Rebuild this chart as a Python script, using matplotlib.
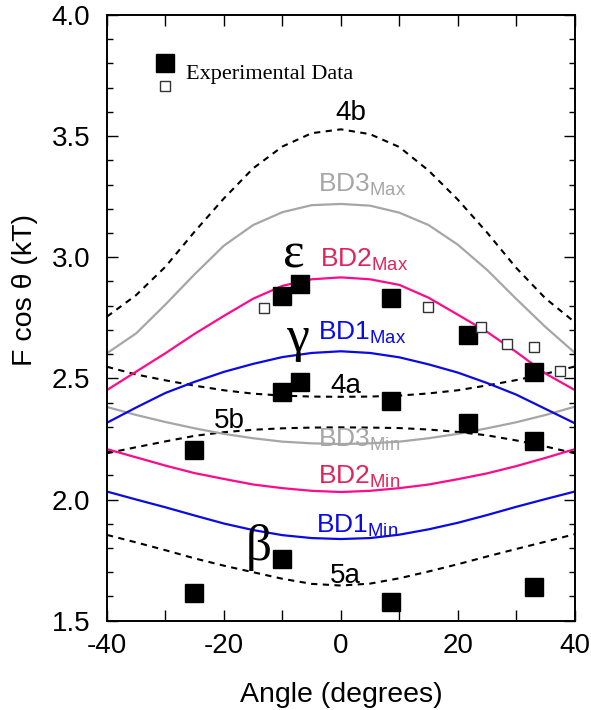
import numpy as np
import matplotlib
matplotlib.use('Agg')
import matplotlib.pyplot as plt
from matplotlib.ticker import MultipleLocator

plt.rcParams['font.family'] = ['Liberation Sans', 'DejaVu Sans']
plt.rcParams['mathtext.fontset'] = 'custom'
plt.rcParams['mathtext.rm'] = 'Liberation Sans'
plt.rcParams['mathtext.it'] = 'Liberation Sans:italic'
plt.rcParams['axes.unicode_minus'] = False

angle = [-40, -35, -30, -25, -20, -15, -10, -5, 0, 5, 10, 15, 20, 25, 30, 35, 40]

c4b = [2.755, 2.844, 2.961, 3.106, 3.243, 3.367, 3.457, 3.512, 3.528,
       3.508, 3.455, 3.358, 3.238, 3.102, 2.956, 2.830, 2.732]
bd3_max = [2.604, 2.686, 2.805, 2.930, 3.048, 3.133, 3.186, 3.215, 3.220,
           3.213, 3.184, 3.133, 3.052, 2.948, 2.828, 2.712, 2.606]
bd2_max = [2.452, 2.528, 2.604, 2.684, 2.758, 2.829, 2.882, 2.909, 2.917,
           2.909, 2.886, 2.833, 2.763, 2.692, 2.609, 2.520, 2.452]
bd1_max = [2.317, 2.380, 2.440, 2.486, 2.527, 2.560, 2.588, 2.605, 2.612,
           2.605, 2.587, 2.558, 2.524, 2.481, 2.433, 2.374, 2.315]
c4a = [2.548, 2.516, 2.492, 2.470, 2.451, 2.437, 2.429, 2.425, 2.424,
       2.425, 2.429, 2.438, 2.451, 2.471, 2.493, 2.519, 2.549]
bd3_min = [2.382, 2.349, 2.320, 2.294, 2.271, 2.253, 2.239, 2.232, 2.229,
           2.232, 2.239, 2.253, 2.271, 2.294, 2.319, 2.349, 2.383]
c5b = [2.191, 2.216, 2.240, 2.263, 2.278, 2.288, 2.294, 2.297, 2.298,
       2.297, 2.295, 2.289, 2.279, 2.265, 2.244, 2.219, 2.191]
bd2_min = [2.208, 2.174, 2.140, 2.109, 2.085, 2.062, 2.047, 2.036, 2.031,
           2.036, 2.047, 2.062, 2.084, 2.108, 2.138, 2.172, 2.208]
bd1_min = [2.033, 2.000, 1.968, 1.934, 1.901, 1.874, 1.853, 1.841, 1.837,
           1.841, 1.855, 1.877, 1.904, 1.936, 1.970, 2.002, 2.033]
c5a = [1.854, 1.823, 1.791, 1.757, 1.727, 1.700, 1.673, 1.652, 1.645,
       1.653, 1.675, 1.703, 1.733, 1.765, 1.796, 1.826, 1.857]

# experimental data, filled and open squares
exp_x = [-25.2, -25.2, -10.0, -10.0, -7.0, -10.0, -7.0, 8.6, 8.6, 8.6,
         21.8, 21.8, 33.1, 33.1, 33.1]
exp_y = [2.205, 1.616, 1.754, 2.443, 2.487, 2.842, 2.889, 2.831, 2.408, 1.579,
         2.679, 2.315, 2.528, 2.243, 1.641]
open_x = [-13.1, 14.9, 24.0, 28.4, 33.0, 37.4]
open_y = [2.790, 2.794, 2.714, 2.641, 2.631, 2.531]

pink = '#ff0a8c'
blue = '#0a0ae6'
gray = '#a6a6a6'

fig = plt.figure(figsize=(5.91, 7.10), dpi=100)
ax = fig.add_axes([0.181, 0.1258, 0.7915, 0.8531])

dash = dict(color='black', lw=1.5, dashes=(3, 2.6))
ax.plot(angle, c4b, **dash)
ax.plot(angle, c4a, **dash)
ax.plot(angle, c5b, **dash)
ax.plot(angle, c5a, **dash)
ax.plot(angle, bd3_max, color=gray, lw=1.6)
ax.plot(angle, bd3_min, color=gray, lw=1.6)
ax.plot(angle, bd2_max, color=pink, lw=1.6)
ax.plot(angle, bd2_min, color=pink, lw=1.6)
ax.plot(angle, bd1_max, color=blue, lw=1.6)
ax.plot(angle, bd1_min, color=blue, lw=1.6)

ax.plot(exp_x, exp_y, 's', color='black', ms=12.5, zorder=5)
ax.plot(open_x, open_y, 's', mfc='white', mec='#333333', mew=1.0, ms=7.8, zorder=5)

# legend-like key in the upper left
ax.plot([0.124], [0.921], 's', color='black', ms=12.5, transform=ax.transAxes)
ax.plot([0.124], [0.882], 's', mfc='white', mec='#333333', mew=1.0, ms=7.8,
        transform=ax.transAxes)
ax.text(0.170, 0.901, 'Experimental Data', transform=ax.transAxes,
        family='Liberation Serif', fontsize=16, va='center', ha='left')

# curve labels
lab = dict(fontsize=19, ha='center', va='baseline')
ax.text(1.7, 3.565, '4b', color='black', fontsize=20, ha='center', va='baseline')
ax.text(3.6, 3.27, r'BD3$_{\rm Max}$', color=gray, **lab)
ax.text(4.0, 2.961, r'BD2$_{\rm Max}$', color='#e0245a', **lab)
ax.text(3.6, 2.659, r'BD1$_{\rm Max}$', color=blue, **lab)
ax.text(0.9, 2.441, '4a', color='black', fontsize=20, ha='center', va='baseline')
ax.text(-19.0, 2.297, '5b', color='black', fontsize=20, ha='center', va='baseline')
ax.text(3.1, 2.216, r'BD3$_{\rm Min}$', color=gray, **lab)
ax.text(3.1, 2.067, r'BD2$_{\rm Min}$', color='#e0245a', **lab)
ax.text(2.8, 1.861, r'BD1$_{\rm Min}$', color=blue, **lab)
ax.text(0.7, 1.655, '5a', color='black', fontsize=20, ha='center', va='baseline')

greek = dict(family='Liberation Serif', fontsize=37, ha='center', va='baseline')
ax.text(-8.0, 2.956, '\u03b5', **greek)
ax.text(-7.5, 2.615, '\u03b3', **greek)
ax.text(-14.1, 1.75, '\u03b2', **greek)

ax.set_xlim(-40, 40)
ax.set_ylim(1.5, 4.0)
ax.xaxis.set_major_locator(MultipleLocator(20))
ax.xaxis.set_minor_locator(MultipleLocator(10))
ax.yaxis.set_minor_locator(MultipleLocator(0.1))
ax.set_yticks([1.5, 2.0, 2.5, 3.0, 3.5, 4.0])
ax.set_yticklabels(['1.5', '2.0', '2.5', '3.0', '3.5', '4.0'])

ax.tick_params(which='both', direction='in', top=True, right=True, width=1.0)
ax.tick_params(axis='x', which='both', length=7.7, pad=9, labelsize=20)
ax.tick_params(axis='y', which='major', length=8, pad=12, labelsize=20)
ax.tick_params(axis='y', which='minor', length=4.5)
for s in ax.spines.values():
    s.set_linewidth(1.4)

ax.set_xlabel('Angle (degrees)', fontsize=20.5)
ax.set_ylabel('F cos \u03b8 (kT)', fontsize=20.5)
ax.xaxis.set_label_coords(0.5, -0.101)
ax.yaxis.set_label_coords(-0.148, 0.546)

fig.savefig('out.png', dpi=100)
